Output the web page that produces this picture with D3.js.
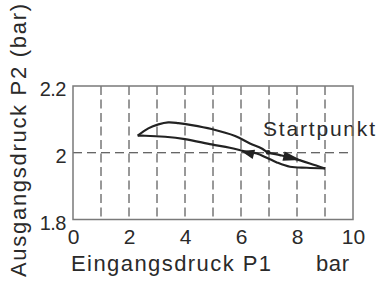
<!DOCTYPE html>
<html>
<head>
<meta charset="utf-8">
<script src="https://cdn.jsdelivr.net/npm/d3@7"></script>
<style>
  html, body { margin: 0; padding: 0; background: #fff; }
  svg { display: block; }
  text { font-family: "Liberation Sans", Arial, Helvetica, sans-serif; fill: #2a2a2a; }
</style>
</head>
<body>
<svg id="chart" width="379" height="282"></svg>
<script>
// ---- data ----
const xTicks = [0, 2, 4, 6, 8, 10];
const yTicks = [1.8, 2, 2.2];
const yTickLabels = ["1.8", "2", "2.2"];
const xGrid = [1, 2, 3, 4, 5, 6, 7, 8, 9];
const yGrid = [2.0];

// upper branch: left tip -> start point -> right tip
const upperP1 = [2.31, 2.69, 3.05, 3.40, 3.76, 4.24, 4.95, 5.79, 6.32, 6.74, 6.97, 7.39, 7.87, 8.46, 9.00];
const upperP2 = [2.051, 2.073, 2.085, 2.091, 2.089, 2.083, 2.071, 2.050, 2.028, 2.013, 2.001, 1.993, 1.983, 1.968, 1.953];
// lower branch: right tip -> left tip
const lowerP1 = [9.00, 8.35, 7.75, 7.28, 6.92, 6.56, 6.20, 5.60, 4.95, 4.00, 3.29, 2.57, 2.31];
const lowerP2 = [1.953, 1.955, 1.958, 1.971, 1.985, 1.998, 2.003, 2.015, 2.025, 2.041, 2.048, 2.051, 2.051];

const startP1 = [6.97];
const startP2 = [2.001];
const startLabel = "Startpunkt";

// arrows: tail -> tip
const arrowTailP1 = [7.52, 6.46];
const arrowTailP2 = [1.990, 1.995];
const arrowTipP1 = [8.14, 6.00];
const arrowTipP2 = [1.978, 2.005];

const xTitle = "Eingangsdruck P1";
const xUnit = "bar";
const yTitle = "Ausgangsdruck P2 (bar)";

// ---- layout ----
const svg = d3.select("#chart");
const m = { left: 73, right: 353, top: 86, bottom: 219.5 };
const x = d3.scaleLinear().domain([0, 10]).range([m.left, m.right]);
const y = d3.scaleLinear().domain([1.8, 2.2]).range([m.bottom, m.top]);
const ink = "#222";

// Start label (drawn first: grid lines pass over it)
svg.append("text")
  .attr("x", 263).attr("y", 136)
  .attr("font-size", 21)
  .attr("textLength", 112).attr("lengthAdjust", "spacing")
  .text(startLabel);

// grid
svg.append("g").selectAll("line").data(xGrid).join("line")
  .attr("x1", d => x(d)).attr("x2", d => x(d))
  .attr("y1", m.top).attr("y2", m.bottom)
  .attr("stroke", "#333").attr("stroke-width", 1)
  .attr("stroke-dasharray", "9,4.5");
svg.append("g").selectAll("line").data(yGrid).join("line")
  .attr("x1", m.left).attr("x2", m.right)
  .attr("y1", d => y(d)).attr("y2", d => y(d))
  .attr("stroke", "#333").attr("stroke-width", 1)
  .attr("stroke-dasharray", "9,5");

// frame
svg.append("rect")
  .attr("x", m.left).attr("y", m.top)
  .attr("width", m.right - m.left).attr("height", m.bottom - m.top)
  .attr("fill", "none").attr("stroke", "#7a7a7a").attr("stroke-width", 1.5);

// axes (labels only)
const xAxis = d3.axisBottom(x).tickValues(xTicks).tickSize(0).tickFormat(d3.format("d"));
const gx = svg.append("g").attr("transform", `translate(0,${m.bottom})`).call(xAxis);
gx.select(".domain").remove();
gx.selectAll("text").attr("font-size", 21).attr("fill", ink)
  .attr("font-family", "Liberation Sans, Arial, sans-serif")
  .attr("y", 10).attr("dy", "0.71em");

const yAxis = d3.axisLeft(y).tickValues(yTicks).tickSize(0)
  .tickFormat((d, i) => yTickLabels[i]);
const gy = svg.append("g").attr("transform", `translate(${m.left},0)`).call(yAxis);
gy.select(".domain").remove();
gy.selectAll("text").attr("font-size", 20).attr("fill", ink)
  .attr("font-family", "Liberation Sans, Arial, sans-serif")
  .attr("x", -7).attr("dy", "0.48em")
  .attr("letter-spacing", "-0.5");

// curves
const line = d3.line().x(d => x(d[0])).y(d => y(d[1])).curve(d3.curveCatmullRom.alpha(0.5));
const upper = upperP1.map((v, i) => [v, upperP2[i]]);
const lower = lowerP1.map((v, i) => [v, lowerP2[i]]);
svg.append("path").attr("d", line(upper))
  .attr("fill", "none").attr("stroke", ink).attr("stroke-width", 2.2).attr("stroke-linejoin", "round");
svg.append("path").attr("d", line(lower))
  .attr("fill", "none").attr("stroke", ink).attr("stroke-width", 2.2).attr("stroke-linejoin", "round");

// start point
svg.append("g").selectAll("circle").data(startP1).join("circle")
  .attr("cx", (d) => x(d)).attr("cy", (d, i) => y(startP2[i])).attr("r", 2.4).attr("fill", ink);

// arrows
const arrows = arrowTipP1.map((v, i) => ({
  tx: x(arrowTailP1[i]), ty: y(arrowTailP2[i]), hx: x(v), hy: y(arrowTipP2[i])
}));
svg.append("g").selectAll("path").data(arrows).join("path")
  .attr("d", a => {
    const dx = a.hx - a.tx, dy = a.hy - a.ty;
    const L = Math.hypot(dx, dy), ux = dx / L, uy = dy / L;
    const w = 4.8;
    const p1 = [a.tx - uy * w, a.ty + ux * w];
    const p2 = [a.tx + uy * w, a.ty - ux * w];
    return `M${a.hx},${a.hy}L${p1[0]},${p1[1]}L${p2[0]},${p2[1]}Z`;
  })
  .attr("fill", ink);

// axis titles
svg.append("text")
  .attr("x", 71).attr("y", 271)
  .attr("font-size", 22)
  .attr("textLength", 200).attr("lengthAdjust", "spacing")
  .text(xTitle);
svg.append("text")
  .attr("x", 316).attr("y", 271)
  .attr("font-size", 22)
  .attr("textLength", 33).attr("lengthAdjust", "spacing")
  .text(xUnit);
svg.append("text")
  .attr("transform", "translate(26,277) rotate(-90)")
  .attr("x", 0).attr("y", 0)
  .attr("font-size", 22)
  .attr("textLength", 273).attr("lengthAdjust", "spacing")
  .text(yTitle);
</script>
</body>
</html>
